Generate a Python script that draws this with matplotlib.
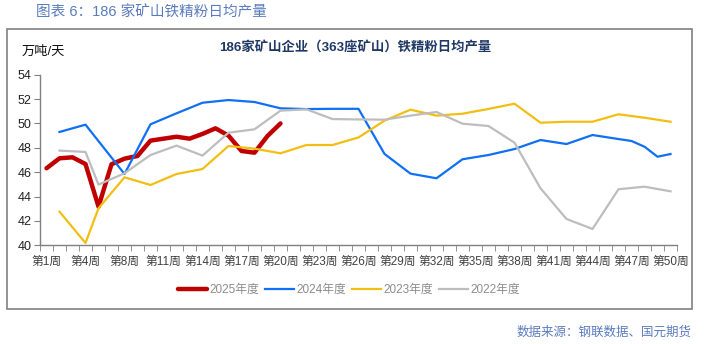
import matplotlib
matplotlib.use("Agg")
import matplotlib.pyplot as plt
from matplotlib.patches import Rectangle

plt.rcParams['font.family'] = ['Liberation Sans', 'Noto Sans CJK SC', 'DejaVu Sans']

# categories (49 weekly slots, weeks 5 missing around the spring festival)
weeks = [1, 2, 3, 4, 6, 7] + list(range(8, 51))
week_labels = ['第%d周' % w for w in weeks]

# 2025
idx_2025 = list(range(19))
val_2025 = [46.32, 47.14, 47.22, 46.67, 43.17, 46.65, 47.11, 47.33, 48.59, 48.75,
            48.91, 48.75, 49.14, 49.6, 49.0, 47.74, 47.6, 48.97, 50.0]

# 2024
idx_2024 = [1, 3, 6, 8, 10, 12, 14, 16, 18, 20, 22, 24, 26, 28, 30, 32, 34, 36,
            38, 40, 42, 44, 45, 46, 47, 48]
val_2024 = [49.3, 49.9, 45.85, 49.93, 50.83, 51.7, 51.92, 51.76, 51.24, 51.18,
            51.2, 51.2, 47.5, 45.88, 45.5, 47.06, 47.41, 47.9, 48.64, 48.31,
            49.05, 48.72, 48.56, 48.09, 47.27, 47.49]

# 2023 / 2022
idx_old = [1, 3, 4, 6, 8, 10, 12, 14, 16, 18, 20, 22, 24, 26, 28, 30, 32, 34,
           36, 38, 40, 42, 44, 46, 48]
val_2023 = [42.76, 40.19, 43.04, 45.58, 44.95, 45.85, 46.26, 48.15, 47.93, 47.55,
            48.23, 48.23, 48.85, 50.23, 51.13, 50.64, 50.8, 51.19, 51.62, 50.06,
            50.14, 50.14, 50.75, 50.47, 50.14]
val_2022 = [47.77, 47.66, 44.98, 45.91, 47.41, 48.18, 47.36, 49.24, 49.52, 51.05,
            51.16, 50.36, 50.33, 50.31, 50.64, 50.94, 49.98, 49.79, 48.42, 44.68,
            42.16, 41.34, 44.6, 44.81, 44.43]

W, H = 707, 344
fig = plt.figure(figsize=(W / 100, H / 100), dpi=100)

# outer frame
fig.patches.append(Rectangle((7.3 / W, 1 - 309 / H), (692.3 - 7.3) / W, (309 - 29.3) / H,
                             transform=fig.transFigure, fill=False,
                             edgecolor='#808080', linewidth=1.2))

ax = fig.add_axes([40 / W, 1 - 245.3 / H, 637 / W, 170.6 / H])

ax.plot(idx_2025, val_2025, color='#C00000', lw=3.2, label='2025年度', solid_capstyle='round')
ax.plot(idx_2024, val_2024, color='#0F6FF5', lw=1.6, label='2024年度')
ax.plot(idx_old, val_2023, color='#F2BE12', lw=1.6, label='2023年度')
ax.plot(idx_old, val_2022, color='#BDBDBD', lw=1.6, label='2022年度')

ax.set_xlim(-0.5, len(weeks) - 0.5)
ax.set_ylim(40, 54)
ax.set_yticks(range(40, 55, 2))

ax.set_xticks(range(0, len(weeks), 3))
ax.set_xticklabels(week_labels[::3])
ax.set_xticks([i - 0.5 for i in range(len(weeks) + 1)], minor=True)
ax.tick_params(axis='x', which='major', length=0, pad=8, labelsize=8.5, labelcolor='#404040')
ax.tick_params(axis='x', which='minor', length=4, color='#808080', direction='out')
ax.tick_params(axis='y', length=4, color='#808080', labelsize=9, labelcolor='#202020', pad=2)

for s in ['top', 'right']:
    ax.spines[s].set_visible(False)
for s in ['left', 'bottom']:
    ax.spines[s].set_color('#808080')
    ax.spines[s].set_linewidth(1.0)

leg = fig.legend(loc='center', bbox_to_anchor=(349 / W, 1 - 290 / H), ncol=4,
                 frameon=False, fontsize=8.5, handlelength=2.45, handletextpad=0.2,
                 columnspacing=0.5)
for t in leg.get_texts():
    t.set_color('#8C8C8C')

fig.text(36 / W, 1 - 12.5 / H, '图表 6：186 家矿山铁精粉日均产量', fontsize=10.5,
         color='#5A7BBE', va='center', ha='left')
fig.text(22 / W, 1 - 52 / H, '万吨/天', fontsize=9.5, color='#111111', va='center', ha='left')
fig.text(355 / W, 1 - 47 / H, '186家矿山企业（363座矿山）铁精粉日均产量', fontsize=9.6,
         fontweight='bold', color='#1F3864', va='center', ha='center')
fig.text(692 / W, 1 - 332.5 / H, '数据来源：钢联数据、国元期货', fontsize=9,
         color='#5A7BBE', va='center', ha='right')

fig.savefig('out.png', dpi=100)
